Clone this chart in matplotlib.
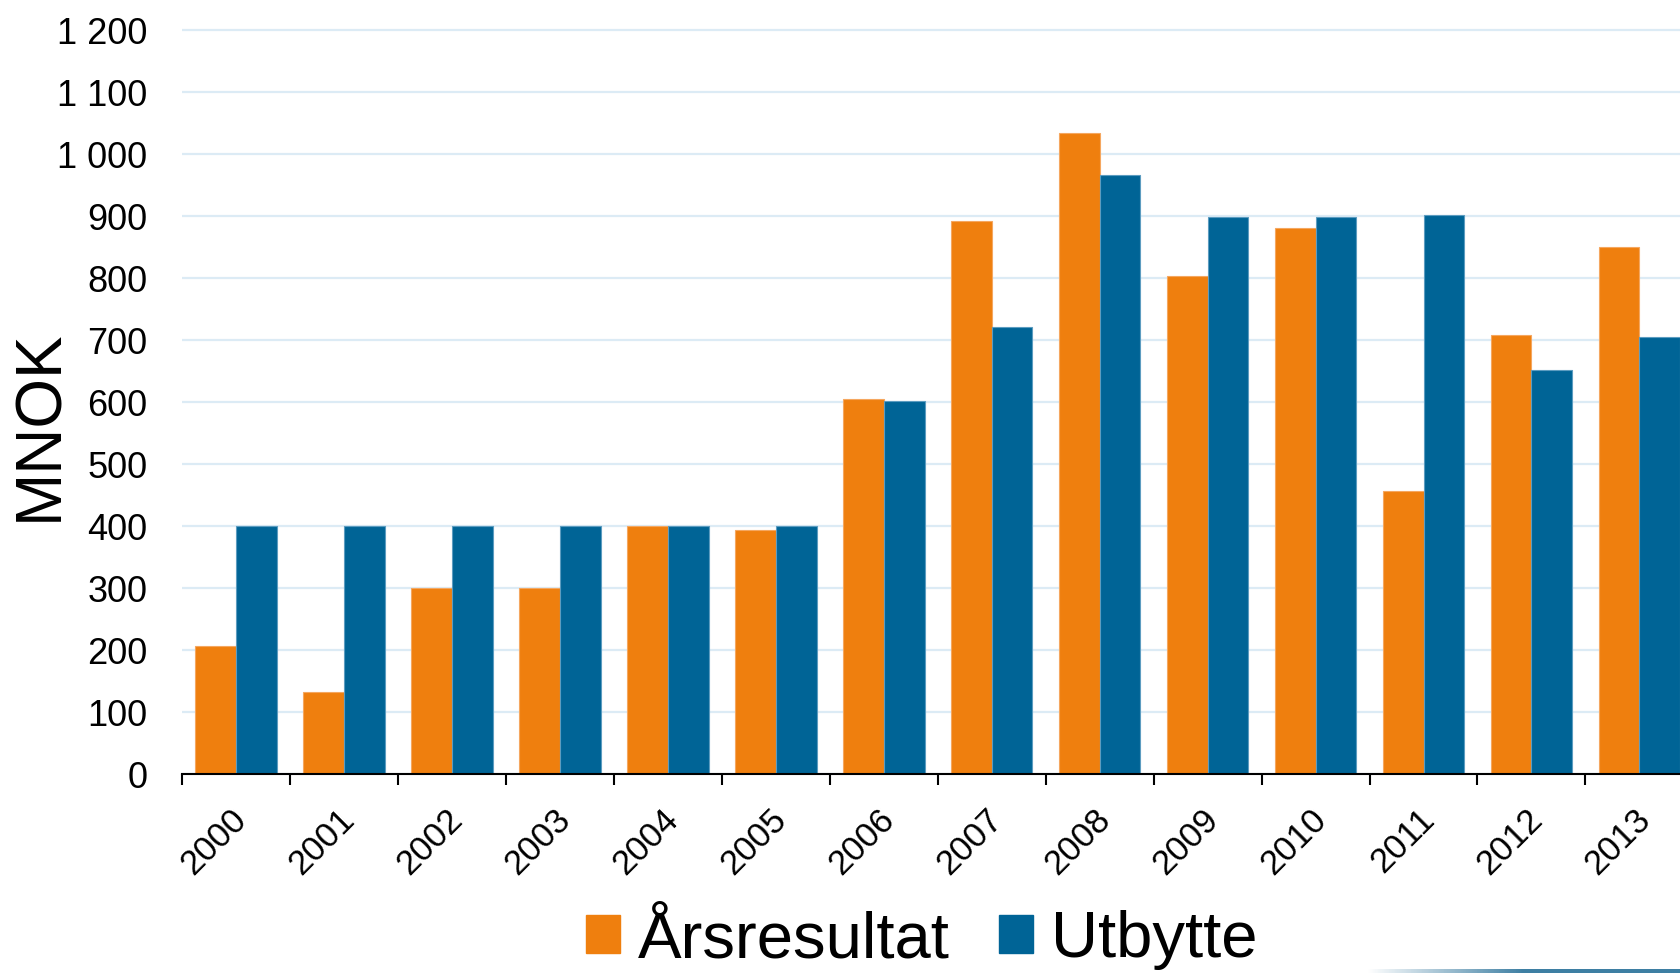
import numpy as np
from matplotlib import pyplot as plt
from matplotlib.ticker import FuncFormatter
from matplotlib.patches import Patch
from matplotlib.colors import LinearSegmentedColormap
from matplotlib.transforms import ScaledTranslation

plt.rcParams['font.family'] = ['Liberation Sans', 'DejaVu Sans']

# data (MNOK)
years = ['2000', '2001', '2002', '2003', '2004', '2005', '2006',
         '2007', '2008', '2009', '2010', '2011', '2012', '2013']
arsresultat = [206, 133, 300, 300, 400, 393, 605, 892, 1034, 804, 880, 456, 708, 850]
utbytte = [400, 400, 400, 400, 400, 400, 602, 721, 967, 898, 898, 902, 651, 705]

orange = '#EF7F0E'
blue = '#006496'

W, H = 1681, 973
fig = plt.figure(figsize=(W / 100, H / 100), dpi=100)
ax = fig.add_axes([182 / W, 1 - 774 / H, 1 - 182 / W, (774 - 27) / H])

x = np.arange(len(years))
bw = 0.378
ax.bar(x - bw / 2, arsresultat, bw, color=orange, edgecolor='#F5A760', linewidth=0.8, zorder=2)
ax.bar(x + bw / 2, utbytte, bw, color=blue, edgecolor='#5C9CC0', linewidth=0.8, zorder=2)

ax.set_yticks(np.arange(0, 1201, 100))
ax.yaxis.set_major_formatter(FuncFormatter(lambda v, p: f'{int(v):,}'.replace(',', ' ')))
ax.yaxis.grid(True, color='#DCEBF5', linewidth=1.6)
ax.set_axisbelow(True)

ax.set_xticks(x)
ax.set_xticklabels(years, rotation=45, ha='right', va='center', rotation_mode='anchor')
ax.set_xticks(np.arange(-0.5, 13.6, 1), minor=True)
ax.tick_params(axis='x', which='major', length=0, pad=29, labelsize=25)
ax.tick_params(axis='x', which='minor', length=8, width=1.5, direction='out', color='black')
ax.tick_params(axis='y', length=0, pad=25, labelsize=26)
# nudge the rotated year labels a little to the right
shift = ScaledTranslation(4 / 72, 0, fig.dpi_scale_trans)
for t in ax.xaxis.get_major_ticks():
    t.label1.set_transform(t.label1.get_transform() + shift)

# limits after the ticks, so the boundary ticks don't widen the view
ax.set_xlim(-0.5, 13.385)
ax.set_ylim(0, 1205)

for s in ['top', 'right', 'left']:
    ax.spines[s].set_visible(False)
ax.spines['bottom'].set_linewidth(1.5)
ax.spines['bottom'].set_zorder(3)

fig.text(40 / W, 1 - 425 / H, 'MNOK', rotation=90, ha='center', va='center', fontsize=46)

handles = [Patch(color=orange, label='Årsresultat'), Patch(color=blue, label='Utbytte')]
fig.legend(handles=handles, loc='center', bbox_to_anchor=(922 / W, 1 - 940 / H), ncol=2,
           frameon=False, fontsize=47, handlelength=0.52, handleheight=0.52,
           handletextpad=0.28, columnspacing=0.75, borderpad=0)

# decorative strip bottom right
strip = fig.add_axes([1367 / W, 0, 1 - 1367 / W, 4 / H])
cmap = LinearSegmentedColormap.from_list('strip', ['#FFFFFF', '#3E7FA3', '#3E7FA3'])
strip.imshow(np.linspace(0, 1, 200)[None, :], aspect='auto', cmap=cmap)
strip.axis('off')

fig.savefig('out.png', dpi=100)
